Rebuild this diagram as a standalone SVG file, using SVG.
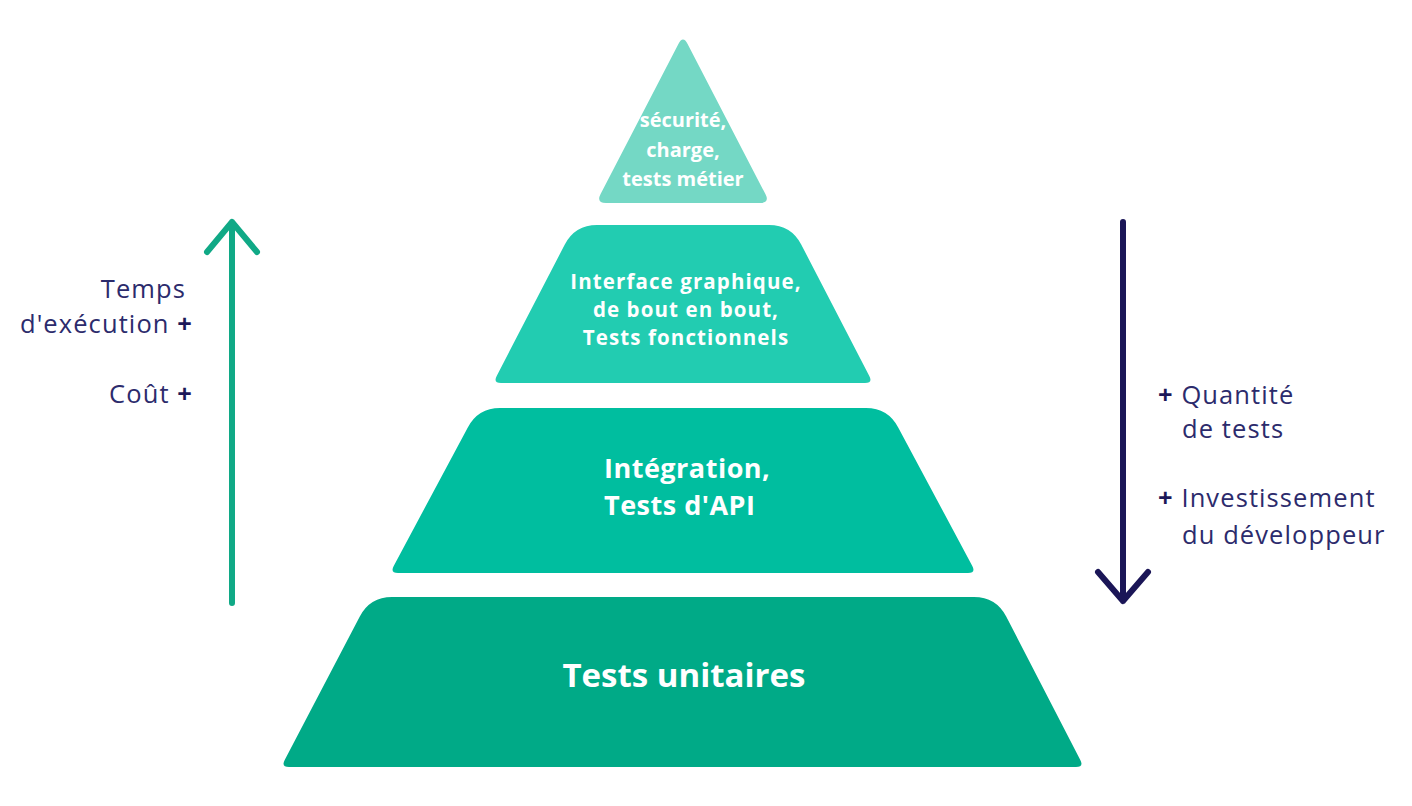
<svg xmlns="http://www.w3.org/2000/svg" width="1412" height="806" viewBox="0 0 1412 806">
<style>
.lvl text{font-family:"Open Sans","Noto Sans",sans-serif;font-weight:700;fill:#ffffff;text-anchor:middle}
.lbl{font-family:"Open Sans","Noto Sans",sans-serif;font-weight:400;fill:#2c2b6c;font-size:25.5px;letter-spacing:1.1px}
.plus{font-weight:700;fill:#1c1858}
.arr{fill:none;stroke-width:6;stroke-linecap:round;stroke-linejoin:round}
</style>
<rect width="1412" height="806" fill="#ffffff"/>
<g id="level-top" class="lvl">
<path d="M 678.4,43.9 Q 683,35 687.6,43.9 L 765.4,194.1 Q 770,203 760,203 L 606,203 Q 596,203 600.6,194.1 Z" fill="#74d8c5"/>
<text font-size="20" x="683" y="127">sécurité,</text>
<text font-size="20" x="683" y="157">charge,</text>
<text font-size="20" x="683" y="186">tests métier</text>
</g>
<g id="level-ui" class="lvl">
<path d="M 597,225 L 769,225 Q 791,225 801.2,244.5 L 869.3,375.9 Q 873,383 865,383 L 501,383 Q 493,383 496.7,375.9 L 564.8,244.5 Q 575,225 597,225 Z" fill="#22ccb1"/>
<text font-size="20.5" letter-spacing="1.1" x="686" y="289">Interface graphique,</text>
<text font-size="20.5" letter-spacing="1.1" x="686" y="317">de bout en bout,</text>
<text font-size="20.5" letter-spacing="1.1" x="686" y="345">Tests fonctionnels</text>
</g>
<g id="level-integration" class="lvl">
<path d="M 500,408 L 866,408 Q 888,408 898.2,427.5 L 972.3,565.9 Q 976,573 968,573 L 398,573 Q 390,573 393.7,565.9 L 467.8,427.5 Q 478,408 500,408 Z" fill="#00be9f"/>
<text font-size="27" letter-spacing="0.5" x="604" y="478" style="text-anchor:start">Intégration,</text>
<text font-size="27" letter-spacing="0.5" x="604" y="515" style="text-anchor:start">Tests d'API</text>
</g>
<g id="level-unit" class="lvl">
<path d="M 392,597 L 974,597 Q 996,597 1006.2,616.5 L 1080.3,759.9 Q 1084,767 1076,767 L 289,767 Q 281,767 284.7,759.9 L 359.8,616.5 Q 370,597 392,597 Z" fill="#00aa87"/>
<text font-size="33" x="684" y="687">Tests unitaires</text>
</g>
<g id="connectors">
<path class="arr" d="M 232,603 L 232,222 M 207,252 L 232,222 L 257,252" stroke="#10a986"/>
<path class="arr" d="M 1123,222 L 1123,601 M 1098,572 L 1123,601 L 1148,572" stroke="#1b1657"/>
</g>
<g id="label-left">
<text class="lbl" x="186" y="298" text-anchor="end">Temps</text>
<text class="lbl" x="193" y="333" text-anchor="end">d'exécution <tspan class="plus">+</tspan></text>
<text class="lbl" x="193" y="403" text-anchor="end">Coût <tspan class="plus">+</tspan></text>
</g>
<g id="label-right">
<text class="lbl" x="1158" y="404"><tspan class="plus">+</tspan> Quantité</text>
<text class="lbl" x="1182" y="438">de tests</text>
<text class="lbl" x="1158" y="507"><tspan class="plus">+</tspan> Investissement</text>
<text class="lbl" x="1182" y="544">du développeur</text>
</g>
</svg>
